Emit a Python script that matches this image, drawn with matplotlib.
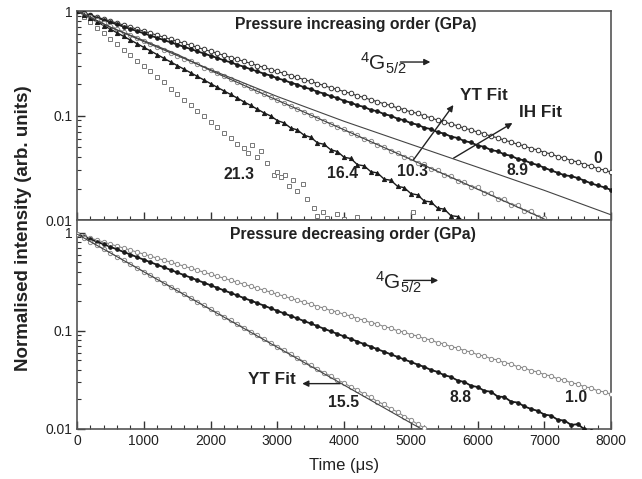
import numpy as np
import matplotlib
matplotlib.use("Agg")
import matplotlib.pyplot as plt
from matplotlib.ticker import FixedLocator, FixedFormatter, LogLocator, MultipleLocator, NullFormatter

plt.rcParams["font.family"] = ["Liberation Sans", "DejaVu Sans"]
plt.rcParams["mathtext.fontset"] = "custom"
plt.rcParams["mathtext.rm"] = "Liberation Sans"

# ---- data: decay curves (time in us, normalised intensity), one point per 100 us ----
t_grid = np.arange(0, 8001, 100)

# pressure increasing order
inc_0 = [1.000, 0.957, 0.915, 0.875, 0.837, 0.801, 0.766, 0.733, 0.701, 0.670,
         0.641, 0.613, 0.587, 0.561, 0.537, 0.513, 0.491, 0.470, 0.449, 0.430,
         0.411, 0.393, 0.377, 0.359, 0.345, 0.329, 0.316, 0.300, 0.289, 0.275,
         0.264, 0.253, 0.241, 0.232, 0.220, 0.212, 0.202, 0.194, 0.184, 0.178,
         0.169, 0.163, 0.154, 0.149, 0.141, 0.136, 0.129, 0.125, 0.118, 0.114,
         0.108, 0.105, 0.0985, 0.0955, 0.0900, 0.0875, 0.0825, 0.0800, 0.0752, 0.0732,
         0.0690, 0.0672, 0.0630, 0.0614, 0.0578, 0.0560, 0.0528, 0.0513, 0.0482, 0.0470,
         0.0442, 0.0430, 0.0404, 0.0393, 0.0370, 0.0360, 0.0338, 0.0330, 0.0309, 0.0301,
         0.0286]
inc_8_9 = [1.000, 0.952, 0.906, 0.863, 0.821, 0.782, 0.744, 0.708, 0.674, 0.642,
           0.611, 0.582, 0.554, 0.527, 0.502, 0.478, 0.455, 0.433, 0.412, 0.392,
           0.373, 0.356, 0.337, 0.323, 0.306, 0.293, 0.277, 0.265, 0.251, 0.241,
           0.227, 0.218, 0.206, 0.198, 0.186, 0.179, 0.169, 0.162, 0.153, 0.147,
           0.138, 0.133, 0.125, 0.121, 0.113, 0.110, 0.103, 0.0995, 0.0932, 0.0902,
           0.0845, 0.0818, 0.0765, 0.0742, 0.0693, 0.0672, 0.0628, 0.0610, 0.0570, 0.0552,
           0.0516, 0.0502, 0.0467, 0.0455, 0.0424, 0.0412, 0.0384, 0.0372, 0.0350, 0.0336,
           0.0316, 0.0298, 0.0283, 0.0268, 0.0263, 0.0252, 0.0238, 0.0224, 0.0214, 0.0205,
           0.0194]
inc_10_3 = [1.000, 0.937, 0.877, 0.822, 0.770, 0.721, 0.675, 0.632, 0.592, 0.555,
            0.520, 0.487, 0.456, 0.427, 0.400, 0.375, 0.351, 0.329, 0.308, 0.288,
            0.270, 0.253, 0.237, 0.222, 0.208, 0.195, 0.182, 0.171, 0.160, 0.150,
            0.140, 0.131, 0.123, 0.115, 0.108, 0.101, 0.0950, 0.0880, 0.0835, 0.0772,
            0.0735, 0.0676, 0.0645, 0.0592, 0.0568, 0.0520, 0.0500, 0.0455, 0.0440, 0.0398,
            0.0388, 0.0348, 0.0342, 0.0305, 0.0302, 0.0268, 0.0266, 0.0236, 0.0232, 0.0206,
            0.0208, 0.0181, 0.0182, 0.0158, 0.0160, 0.0139, 0.0140, 0.0122, 0.0123, 0.0107,
            0.0104]
inc_16_4 = [1.000, 0.923, 0.852, 0.787, 0.726, 0.670, 0.619, 0.571, 0.527, 0.487,
            0.449, 0.415, 0.383, 0.353, 0.326, 0.301, 0.278, 0.257, 0.237, 0.219,
            0.202, 0.186, 0.172, 0.159, 0.147, 0.135, 0.125, 0.115, 0.106, 0.0990,
            0.0895, 0.0850, 0.0760, 0.0728, 0.0648, 0.0620, 0.0548, 0.0530, 0.0470, 0.0452,
            0.0398, 0.0388, 0.0338, 0.0330, 0.0290, 0.0282, 0.0246, 0.0240, 0.0210, 0.0204,
            0.0179, 0.0174, 0.0152, 0.0149, 0.0130, 0.0127, 0.0110, 0.0108, 0.0096]
t_21_3 = [0, 100, 200, 300, 400, 500, 600, 700, 800, 900, 1000, 1100, 1200, 1300, 1400,
          1500, 1600, 1700, 1800, 1900, 2000, 2100, 2200, 2300, 2400, 2500, 2560, 2620,
          2700, 2760, 2850, 2950, 3000, 3050, 3120, 3180, 3230, 3300, 3380, 3450, 3550,
          3600, 3680, 3750, 3900, 4000, 4200, 5030]
inc_21_3 = [1.000, 0.885, 0.784, 0.694, 0.614, 0.543, 0.481, 0.426, 0.377, 0.333, 0.295,
            0.266, 0.236, 0.210, 0.181, 0.160, 0.142, 0.126, 0.111, 0.0985, 0.0872,
            0.0772, 0.0683, 0.0605, 0.0535, 0.049, 0.044, 0.052, 0.040, 0.046, 0.035,
            0.027, 0.029, 0.026, 0.027, 0.021, 0.024, 0.019, 0.022, 0.016, 0.013, 0.011,
            0.012, 0.0105, 0.0115, 0.0102, 0.0108, 0.0118]

t_fit_inc = [0, 500, 1000, 1500, 2000, 3000, 4000, 5000, 6000, 7000, 8000]
yt_fit_inc = [1.0, 0.70, 0.52, 0.385, 0.27, 0.140, 0.073, 0.038, 0.0197, 0.0102, 0.0053]
ih_fit_inc = [1.0, 0.70, 0.51, 0.375, 0.275, 0.152, 0.088, 0.053, 0.032, 0.0192, 0.0112]

# pressure decreasing order
dec_1_0 = [0.970, 0.925, 0.883, 0.842, 0.803, 0.766, 0.731, 0.698, 0.666, 0.635,
           0.606, 0.578, 0.551, 0.526, 0.502, 0.479, 0.457, 0.436, 0.416, 0.396,
           0.378, 0.361, 0.344, 0.328, 0.313, 0.299, 0.285, 0.272, 0.260, 0.248,
           0.236, 0.226, 0.214, 0.206, 0.195, 0.188, 0.177, 0.171, 0.161, 0.156,
           0.147, 0.142, 0.133, 0.129, 0.121, 0.118, 0.110, 0.107, 0.100, 0.0975,
           0.0915, 0.0888, 0.0832, 0.0810, 0.0758, 0.0737, 0.0690, 0.0670, 0.0628, 0.0610,
           0.0571, 0.0555, 0.0520, 0.0506, 0.0473, 0.0461, 0.0430, 0.0420, 0.0392, 0.0382,
           0.0357, 0.0348, 0.0324, 0.0316, 0.0295, 0.0288, 0.0268, 0.0263, 0.0244, 0.0239,
           0.0225]
dec_8_8 = [0.970, 0.914, 0.860, 0.810, 0.763, 0.719, 0.677, 0.637, 0.600, 0.565,
           0.532, 0.501, 0.472, 0.445, 0.419, 0.394, 0.371, 0.350, 0.329, 0.310,
           0.292, 0.275, 0.259, 0.244, 0.230, 0.216, 0.204, 0.192, 0.181, 0.170,
           0.160, 0.151, 0.142, 0.134, 0.126, 0.119, 0.112, 0.105, 0.0990, 0.0932,
           0.0878, 0.0827, 0.0779, 0.0733, 0.0691, 0.0650, 0.0613, 0.0577, 0.0543, 0.0512,
           0.0482, 0.0454, 0.0430, 0.0400, 0.0382, 0.0353, 0.0340, 0.0312, 0.0302, 0.0276,
           0.0268, 0.0245, 0.0240, 0.0214, 0.0212, 0.0190, 0.0186, 0.0170, 0.0160, 0.0153,
           0.0140, 0.0137, 0.0124, 0.0122, 0.0110, 0.0112, 0.0099, 0.0095]
dec_15_5 = [0.970, 0.888, 0.813, 0.745, 0.682, 0.625, 0.572, 0.524, 0.480, 0.439,
            0.402, 0.368, 0.337, 0.309, 0.283, 0.259, 0.237, 0.217, 0.199, 0.182,
            0.167, 0.153, 0.140, 0.128, 0.117, 0.108, 0.0984, 0.0901, 0.0825, 0.0756,
            0.0692, 0.0634, 0.0580, 0.0531, 0.0487, 0.0446, 0.0408, 0.0374, 0.0348, 0.0316,
            0.0295, 0.0268, 0.0250, 0.0226, 0.0212, 0.0190, 0.0178, 0.0160, 0.0150, 0.0134,
            0.0124, 0.0112, 0.0103]
t_fit_dec = [0, 1000, 2000, 3000, 4000, 5000, 5400]
yt_fit_dec = [0.97, 0.40, 0.165, 0.068, 0.028, 0.0115, 0.0081]

fig = plt.figure(figsize=(6.42, 4.79), dpi=100)
ax1 = fig.add_axes([0.120, 0.5407, 0.832, 0.4363])
ax2 = fig.add_axes([0.120, 0.1044, 0.832, 0.4363])

dark = "#1a1a1a"
gray = "#8a8a8a"


def series(ax, v, marker, face, edge, ms, lw):
    # dense measured points: thin trace underneath so the points read as a band
    ax.plot(t_grid[:len(v)], v, "-", color=edge, lw=lw, zorder=2)
    ax.plot(t_grid[:len(v)], v, marker, ls="none", mfc=face, mec=edge, ms=ms, mew=0.7, zorder=3)


series(ax1, inc_0, "o", "white", "#333333", 3.3, 0.8)
series(ax1, inc_8_9, "o", dark, dark, 2.6, 1.3)
series(ax1, inc_10_3, "o", "white", gray, 3.1, 0.8)
series(ax1, inc_16_4, "^", dark, dark, 3.0, 1.0)
ax1.plot(t_21_3, inc_21_3, "s", ls="none", mfc="white", mec="#777777", ms=2.6, mew=0.7)
ax1.plot(t_fit_inc, yt_fit_inc, "-", color="#444444", lw=0.8, zorder=4)
ax1.plot(t_fit_inc, ih_fit_inc, "-", color="#444444", lw=0.8, zorder=4)

series(ax2, dec_1_0, "o", "white", gray, 3.1, 0.8)
series(ax2, dec_8_8, "o", dark, dark, 2.6, 1.3)
series(ax2, dec_15_5, "o", "white", gray, 3.1, 0.8)
ax2.plot(t_fit_dec, yt_fit_dec, "-", color="#444444", lw=0.8, zorder=4)

for ax, top in ((ax1, 1.0), (ax2, 1.35)):
    ax.set_yscale("log")
    ax.set_ylim(0.01, top)
    ax.set_xlim(0, 8000)
    ax.yaxis.set_major_locator(FixedLocator([0.01, 0.1, 1]))
    ax.yaxis.set_major_formatter(FixedFormatter(["0.01", "0.1", "1"]))
    ax.yaxis.set_minor_locator(LogLocator(base=10, subs=np.arange(2, 10)))
    ax.yaxis.set_minor_formatter(NullFormatter())
    ax.xaxis.set_major_locator(MultipleLocator(1000))
    ax.xaxis.set_minor_locator(MultipleLocator(200))
    ax.tick_params(which="both", direction="in", colors="#333333", labelsize=10,
                   labelcolor="#222222")
    ax.tick_params(which="major", length=6, width=1)
    ax.tick_params(which="minor", length=3, width=0.8)
    for s in ax.spines.values():
        s.set_color("#555555")
        s.set_linewidth(1.2)

ax1.tick_params(axis="x", labelbottom=False)

bold = dict(fontweight="bold", fontsize=11.3, color="#222222", ha="center", va="center")
ax1.text(4168, 0.735, "Pressure increasing order (GPa)", **bold)
ax2.text(4130, 0.965, "Pressure decreasing order (GPa)", **bold)

lab = dict(fontweight="bold", fontsize=11.3, color="#222222", ha="center", va="center")
ax1.text(7800, 0.039, "0", **lab)
ax1.text(6600, 0.030, "8.9", **lab)
ax1.text(5020, 0.029, "10.3", **lab)
ax1.text(3975, 0.028, "16.4", **lab)
ax1.text(2420, 0.027, "21.3", **lab)
ax2.text(7470, 0.0207, "1.0", **lab)
ax2.text(5740, 0.0207, "8.8", **lab)
ax2.text(3990, 0.0185, "15.5", **lab)

fit = dict(fontweight="bold", fontsize=12.3, color="#222222", ha="center", va="center")
ax1.text(6100, 0.157, "YT Fit", **fit)
ax1.text(6940, 0.106, "IH Fit", **fit)
ax2.text(2920, 0.0317, "YT Fit", **fit)

arrow = dict(arrowstyle="-|>", color="#222222", lw=1.0, mutation_scale=9, shrinkA=0, shrinkB=0)
ax1.annotate("", xy=(5637, 0.126), xytext=(5037, 0.0375), arrowprops=arrow)
ax1.annotate("", xy=(6521, 0.0848), xytext=(5637, 0.039), arrowprops=arrow)
ax2.annotate("", xy=(3373, 0.029), xytext=(3943, 0.029), arrowprops=arrow)

level = r"$\mathregular{^{4}G_{5/2}}$"
ax1.text(4243, 0.272, level, fontsize=15, color="#222222", ha="left", va="baseline")
ax1.annotate("", xy=(5292, 0.325), xytext=(4843, 0.325), arrowprops=arrow)
ax2.text(4468, 0.264, level, fontsize=15, color="#222222", ha="left", va="baseline")
ax2.annotate("", xy=(5410, 0.327), xytext=(4890, 0.327), arrowprops=arrow)

fig.text(0.036, 0.524, "Normalised intensity (arb. units)", rotation=90, fontweight="bold",
         fontsize=13.5, color="#222222", ha="center", va="center")
fig.text(0.536, 0.029, "Time (\u03bcs)", fontsize=12, color="#222222", ha="center", va="center")

fig.savefig("out.png", dpi=100)
